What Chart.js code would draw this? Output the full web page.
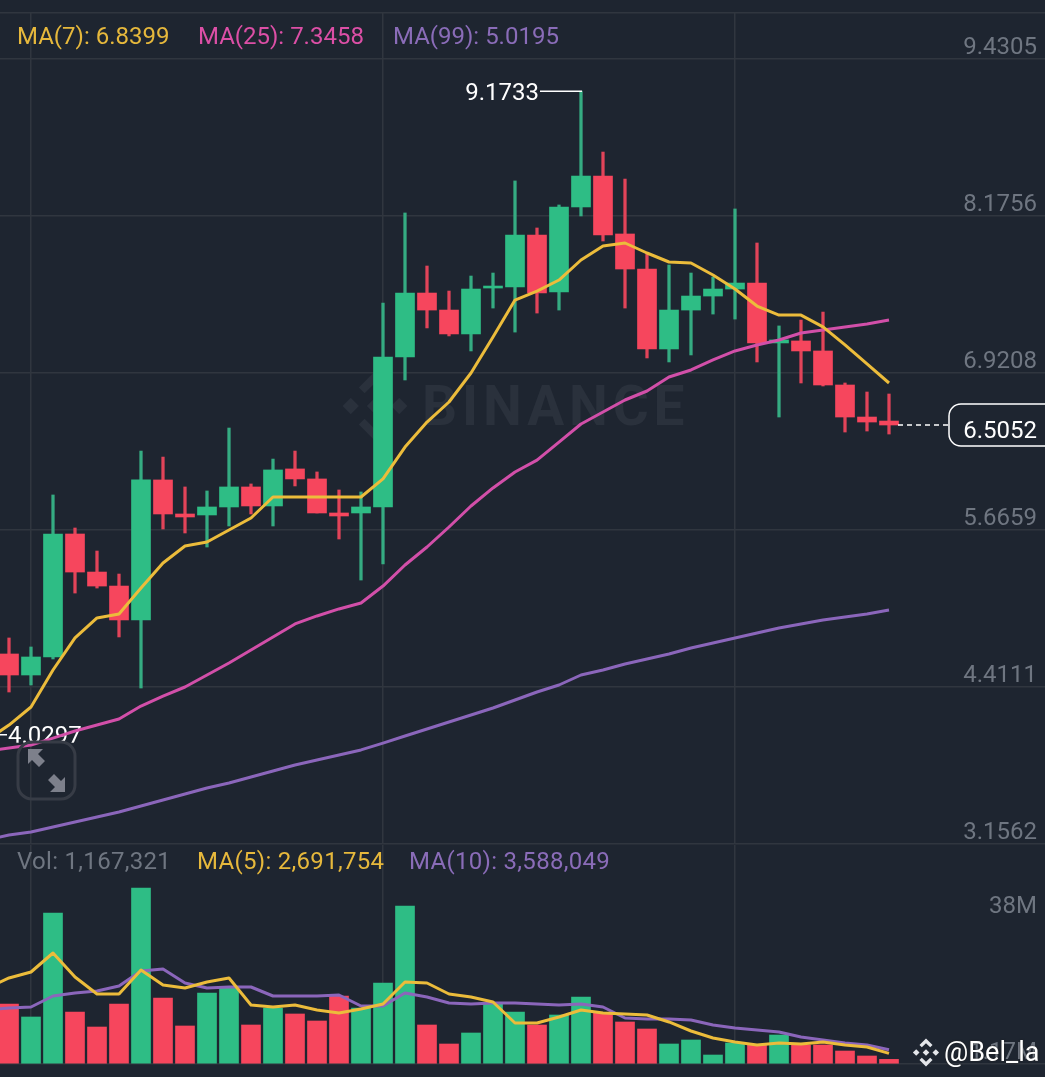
<!DOCTYPE html>
<html><head><meta charset="utf-8">
<style>
html,body{margin:0;padding:0;background:#1e2530;width:1045px;height:1077px;overflow:hidden;font-family:Roboto,sans-serif}
canvas{position:absolute;left:0;z-index:2}
.t{position:absolute;font-size:24px;line-height:28px;white-space:nowrap;z-index:3}
.v{letter-spacing:.3px}
#wm{position:absolute;left:422px;top:374px;font:700 55px/64px Roboto,sans-serif;letter-spacing:4.9px;color:#2a313c;z-index:1}
svg{position:absolute}
</style>
<script src="https://cdn.jsdelivr.net/npm/chart.js@4"></script>
</head><body>
<svg style="left:340px;top:369px;z-index:1" width="70" height="74" viewBox="0 0 30 32"><g fill="#2a313c"><path d="M15 1 L22 8 L19.5 10.5 L15 6 L10.5 10.5 L8 8Z"/><path d="M15 31 L8 24 L10.5 21.5 L15 26 L19.5 21.5 L22 24Z"/><rect x="12.5" y="13.5" width="5" height="5" transform="rotate(45 15 16)"/><rect x="2" y="13.5" width="5" height="5" transform="rotate(45 4.5 16)"/><rect x="23" y="13.5" width="5" height="5" transform="rotate(45 25.5 16)"/></g></svg>
<div id="wm">BINANCE</div>
<canvas id="priceChart" width="1045" height="834" style="top:12px"></canvas>
<canvas id="volChart" width="1045" height="221" style="top:845px"></canvas>
<div class="t" style="left:17px;top:22px;color:#e6b83c">MA(7): 6.8399</div>
<div class="t" style="left:198px;top:22px;color:#dc4fa6">MA(25): 7.3458</div>
<div class="t" style="left:393px;top:22px;color:#8a6cb8">MA(99): 5.0195</div>
<div class="t v" style="left:17px;top:847px;color:#6f7681">Vol: 1,167,321</div>
<div class="t v" style="left:197px;top:847px;color:#e6b83c">MA(5): 2,691,754</div>
<div class="t v" style="left:409px;top:847px;color:#8a6cb8">MA(10): 3,588,049</div>
<svg style="left:16px;top:740px;z-index:3" width="62" height="62" viewBox="0 0 62 62"><rect x="2" y="2" width="57" height="57" rx="14" fill="none" stroke="#373c46" stroke-width="3"/><g fill="#7d808b"><path d="M12 9 L27 9 L22 14 L29 21 L23 27 L16 20 L12 24Z"/><path d="M49 52 L34 52 L39 47 L32 40 L38 34 L45 41 L49 37Z"/></g></svg>
<svg style="left:912px;top:1037px;z-index:4" width="28" height="31" viewBox="0 0 30 32"><g fill="#e4e6ea"><path d="M15 1 L22 8 L19.5 10.5 L15 6 L10.5 10.5 L8 8Z"/><path d="M15 31 L8 24 L10.5 21.5 L15 26 L19.5 21.5 L22 24Z"/><rect x="12.5" y="13.5" width="5" height="5" transform="rotate(45 15 16)"/><rect x="2" y="13.5" width="5" height="5" transform="rotate(45 4.5 16)"/><rect x="23" y="13.5" width="5" height="5" transform="rotate(45 25.5 16)"/></g></svg>
<div class="t" style="left:944px;top:1038px;color:#fff;font-size:27px;z-index:5;text-shadow:0 0 2px #222">@Bel_la</div>
<script>
// Candles (index 0 to 40)
const opens=[4.675,4.507,4.651,5.634,5.330,5.218,4.947,6.066,5.794,5.786,5.850,6.010,5.858,6.154,6.074,5.802,5.802,5.850,7.049,7.560,7.424,7.233,7.600,7.608,8.024,7.568,8.248,8.495,8.032,7.752,7.113,7.424,7.536,7.592,7.640,7.161,7.177,7.097,6.825,6.569,6.537];
const closes=[4.507,4.651,5.634,5.330,5.218,4.947,6.066,5.794,5.770,5.850,6.010,5.858,6.146,6.074,5.802,5.778,5.850,7.049,7.560,7.424,7.233,7.592,7.616,8.024,7.560,8.248,8.495,8.024,7.752,7.113,7.424,7.536,7.592,7.640,7.161,7.185,7.097,6.825,6.569,6.529,6.5052];
const highs=[4.803,4.731,5.946,5.682,5.498,5.314,6.297,6.249,6.010,5.978,6.481,6.034,6.233,6.297,6.130,5.986,5.970,7.480,8.200,7.776,7.576,7.696,7.720,8.456,8.080,8.264,9.1733,8.687,8.471,7.880,7.784,7.720,7.688,8.232,7.960,7.297,7.344,7.408,6.841,6.769,6.753];
const lows=[4.371,4.427,4.635,5.162,5.202,4.811,4.403,5.674,5.642,5.530,5.698,5.794,5.698,6.018,5.802,5.594,5.266,5.394,6.865,7.281,7.217,7.097,7.440,7.248,7.400,7.424,8.176,7.976,7.440,7.041,7.009,7.065,7.392,7.352,7.009,6.569,6.841,6.817,6.449,6.457,6.433];
// Moving averages (index -1 to 40; index -1 lies just off the left edge)
const ma7=[3.987,4.107,4.251,4.547,4.803,4.963,4.995,5.202,5.402,5.538,5.570,5.666,5.762,5.930,5.930,5.930,5.930,5.930,6.074,6.329,6.529,6.689,6.921,7.209,7.504,7.576,7.664,7.824,7.936,7.960,7.880,7.808,7.800,7.704,7.592,7.456,7.384,7.384,7.289,7.145,6.993,6.841];
const ma25=[3.900,3.923,3.947,4.003,4.059,4.107,4.155,4.259,4.339,4.411,4.507,4.603,4.707,4.811,4.915,4.979,5.035,5.082,5.218,5.386,5.530,5.690,5.858,6.002,6.130,6.225,6.369,6.513,6.609,6.705,6.777,6.889,6.945,7.025,7.097,7.145,7.185,7.241,7.265,7.289,7.313,7.344];
const ma99=[3.188,3.228,3.252,3.292,3.332,3.372,3.412,3.460,3.508,3.556,3.604,3.644,3.692,3.740,3.788,3.828,3.868,3.908,3.963,4.019,4.075,4.131,4.187,4.243,4.307,4.371,4.427,4.507,4.547,4.595,4.635,4.675,4.723,4.763,4.803,4.843,4.883,4.915,4.947,4.971,4.995,5.027];
// Volume, in millions
const volumes=[15.15,11.87,38.13,13.13,9.34,15.15,44.44,16.67,9.60,17.93,19.19,9.85,14.14,12.63,10.86,17.17,14.14,20.45,39.90,9.85,5.05,7.83,15.40,13.13,9.85,12.37,16.92,12.88,10.61,8.84,5.05,6.06,2.27,5.30,4.80,7.32,4.80,4.80,3.28,2.02,1.17];
const volMa5=[19.19,21.72,23.23,28.03,21.97,17.68,17.68,23.74,19.95,19.19,20.71,21.72,14.90,14.39,14.90,13.64,12.88,13.89,15.15,20.71,20.45,17.68,16.92,15.66,10.35,10.35,11.87,13.64,12.88,12.63,12.37,10.61,8.33,6.57,5.56,4.80,5.30,5.05,5.56,4.80,4.29,2.69];
const volMa10=[13.64,14.14,14.39,17.17,17.93,18.43,19.70,23.48,23.99,20.45,19.19,19.44,19.44,17.17,17.17,17.17,17.42,14.65,14.65,17.93,16.92,15.40,15.15,15.40,15.40,15.15,14.90,15.15,14.39,11.62,11.36,11.36,11.11,9.85,9.09,8.59,8.08,6.82,6.06,5.30,4.80,3.59];
// Axis ticks and marked values
const priceTicks=[9.4305,8.1756,6.9208,5.6659,4.4111,3.1562];
const volTicks=[38,1.17];
const timeTicks=[1,17,33];
const lastPrice=6.5052, periodHigh=9.1733, periodLow=4.0297;

const GREEN='#2ebd85',RED='#f6465d',YEL='#ecbc3b',PINK='#d24fa9',PUR='#8b66bb',GRID='#30363f',BG='#1e2530',GRAY='#6f7681';
const FONT='Roboto, sans-serif';
const colorOf=closes.map((c,i)=>c>=opens[i]?GREEN:RED);
const wickColor=closes.map((c,i)=>c>=opens[i]?'#35ac82':'#e14459');
const xOpts={type:'linear',offset:false,min:-9/22,max:1036/22,
  grid:{offset:false,color:GRID,lineWidth:1.5,drawTicks:false},border:{display:false},ticks:{display:false},
  afterBuildTicks:a=>{a.ticks=timeTicks.map(v=>({value:v}));}};
const flush=a=>{a.width=0;a.paddingTop=0;a.paddingBottom=0;a.paddingLeft=0;a.paddingRight=0;};
const at=(arr,start)=>arr.map((v,i)=>({x:i+start,y:v}));
const line=(arr,col)=>({type:'line',data:at(arr,-1),borderColor:col,borderWidth:3,pointRadius:0,tension:0,order:1,borderJoinStyle:'round'});
const base={responsive:false,animation:false,events:[],plugins:{legend:{display:false},tooltip:{enabled:false}}};

const pricePlugin={id:'marks',
  beforeDatasetsDraw(c){
    const g=c.ctx,y=c.scales.y.getPixelForValue(periodLow);
    g.save();g.beginPath();g.rect(0,0,1045,y+8);g.clip();
    g.fillStyle='#fff';g.font='24px '+FONT;g.textAlign='left';g.textBaseline='middle';
    g.fillText(periodLow.toFixed(4),8,y+2);
    g.strokeStyle='#fff';g.lineWidth=1.5;g.beginPath();g.moveTo(0,y);g.lineTo(7,y);g.stroke();
    g.restore();
  },
  afterDatasetsDraw(c){
    const g=c.ctx,sx=c.scales.x,sy=c.scales.y;
    const hx=sx.getPixelForValue(highs.indexOf(periodHigh)),hy=sy.getPixelForValue(periodHigh);
    g.save();
    g.strokeStyle='#fff';g.lineWidth=1.5;g.beginPath();g.moveTo(hx-41,hy);g.lineTo(hx+1,hy);g.stroke();
    g.fillStyle='#fff';g.font='24px '+FONT;g.textAlign='right';g.textBaseline='middle';
    g.fillText(periodHigh.toFixed(4),hx-42,hy+3);
    const ly=sy.getPixelForValue(lastPrice),lx=sx.getPixelForValue(closes.length-1);
    g.setLineDash([5,4]);g.beginPath();g.moveTo(lx+9,ly);g.lineTo(949,ly);g.stroke();g.setLineDash([]);
    g.beginPath();g.roundRect(949,ly-21,110,42,12);g.fillStyle=BG;g.fill();g.lineWidth=1.5;g.stroke();
    g.fillStyle='#fff';g.fillText(lastPrice.toFixed(4),1037,ly+7);
    g.restore();
  }};

new Chart(document.getElementById('priceChart'),{type:'bar',plugins:[pricePlugin],
 data:{datasets:[
  line(ma7,YEL),line(ma25,PINK),line(ma99,PUR),
  {data:opens.map((o,i)=>({x:i,y:[o,closes[i]]})),backgroundColor:colorOf,barThickness:19,grouped:false,order:2},
  {data:highs.map((h,i)=>({x:i,y:[lows[i],h]})),backgroundColor:wickColor,barThickness:2.6,grouped:false,order:3}
 ]},
 options:{...base,layout:{padding:{top:1,bottom:2,left:0,right:0}},
  scales:{x:xOpts,
   y:{position:'right',min:3.1562,max:9.7983,afterFit:flush,
    grid:{color:GRID,lineWidth:1.5,drawTicks:false},border:{display:false},
    afterBuildTicks:a=>{a.ticks=[9.7983,...priceTicks].map(v=>({value:v}));},
    ticks:{mirror:true,padding:-8,autoSkip:false,labelOffset:-11,color:GRAY,font:{family:FONT,size:24},
      callback:v=>priceTicks.includes(v)?v.toFixed(4):''}}
  }}});

new Chart(document.getElementById('volChart'),{type:'bar',
 data:{datasets:[
  line(volMa5,YEL),line(volMa10,PUR),
  {data:volumes.map((v,i)=>({x:i,y:v})),backgroundColor:colorOf,barThickness:19,grouped:false,order:2}
 ]},
 options:{...base,layout:{padding:{top:0,bottom:2,left:0,right:0}},
  scales:{x:xOpts,
   y:{position:'right',min:0,max:55.3,afterFit:flush,
    grid:{color:c=>c.tick&&c.tick.value===0?GRID:'transparent',lineWidth:1.5,drawTicks:false},border:{display:false},
    afterBuildTicks:a=>{a.ticks=[0,...volTicks].map(v=>({value:v}));},
    ticks:{mirror:true,padding:-8,autoSkip:false,labelOffset:-6.5,color:GRAY,font:{family:FONT,size:24},
      callback:v=>v===0?'':(v>=10?v+'M':v.toFixed(2)+'M')}}
  }}});
</script>
</body></html>
